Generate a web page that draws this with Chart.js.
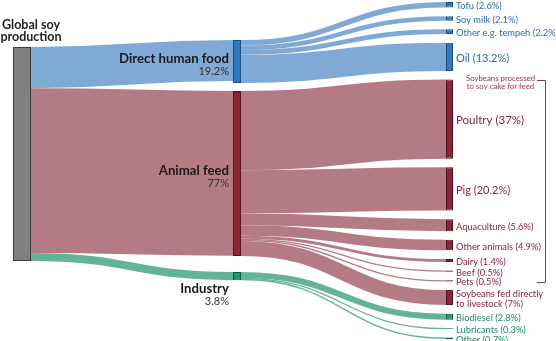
<!DOCTYPE html>
<html>
<head>
<meta charset="utf-8">
<script src="https://cdn.jsdelivr.net/npm/chart.js@4.4.1/dist/chart.umd.min.js"></script>
<style>
  html, body { margin: 0; padding: 0; background: #fff; }
  #wrap { width: 556px; height: 341px; position: relative; }
</style>
</head>
<body>
<div id="wrap"><canvas id="sankey"></canvas></div>
<script>
// shares of global soy production, in %
const sourceName = ['Global soy', 'production'];
const useNames = ['Direct human food', 'Animal feed', 'Industry'];
const useShares = [19.2, 77, 3.8];
const endNames = ['Tofu', 'Soy milk', 'Other e.g. tempeh', 'Oil', 'Poultry', 'Pig', 'Aquaculture', 'Other animals',
    'Dairy', 'Beef', 'Pets', 'Soybeans fed directly\nto livestock', 'Biodiesel', 'Lubricants', 'Other'];
const endShares = [2.6, 2.1, 2.2, 13.2, 37, 20.2, 5.6, 4.9, 1.4, 0.5, 0.5, 7, 2.8, 0.3, 0.7];
const endUse = [0, 0, 0, 0, 1, 1, 1, 1, 1, 1, 1, 1, 2, 2, 2];
const noteLines = ['Soybeans processed', 'to soy cake for feed'];
const noteFrom = 4, noteTo = 10; // Poultry .. Pets

// layout (y in % units, x in px units)
const W = 556, H = 341;
const pxPerUnit = 2.14;
const colX = [22, 237, 449.5];
const colWidth = [18, 8, 7];
const colTop = [22, 18.7, 0.9];
const useGaps = [3.7, 7.5];
const endGap = 4.04;

const nodeFill = ['#2b7bc3', '#8b2437', '#1d9a6c'];
const nodeEdge = ['#1b4f80', '#561422', '#0f5a3c'];
const linkFill = ['#80a9d5', '#b57b85', '#63b39b'];
const textFill = ['#2a6cb2', '#8b2437', '#1d8a5c'];
const font = 'Lato, "Open Sans", sans-serif';

const sum = arr => arr.reduce((a, b) => a + b, 0);
const pct = v => v + '%';

// node positions
const endTotal = useNames.map((_, u) => sum(endShares.filter((_, i) => endUse[i] === u)));
const srcNode = { y0: colTop[0], y1: colTop[0] + sum(useShares) };
const useNodes = [];
let cur = colTop[1];
useNames.forEach((n, u) => {
    const size = Math.max(useShares[u], endTotal[u]);
    useNodes.push({ y0: cur, y1: cur + size });
    cur += size + (useGaps[u] || 0);
});
const endNodes = [];
cur = colTop[2];
endShares.forEach(v => {
    endNodes.push({ y0: cur, y1: cur + v });
    cur += v + endGap;
});

// links
const links = [];
let s = srcNode.y0;
useShares.forEach((v, u) => {
    links.push({ col: 0, sy: s, ty: useNodes[u].y0, v, color: linkFill[u] });
    s += v;
});
const outCur = useNodes.map(n => n.y0);
endShares.forEach((v, i) => {
    const u = endUse[i];
    links.push({ col: 1, sy: outCur[u], ty: endNodes[i].y0, v, color: linkFill[u] });
    outCur[u] += v;
});

const sankeyPlugin = {
    id: 'sankey',
    beforeDatasetsDraw(chart) {
        const { ctx, scales: { x, y } } = chart;
        ctx.save();
        links.forEach(l => {
            const x0 = x.getPixelForValue(colX[l.col]) + colWidth[l.col] / 2;
            const x1 = x.getPixelForValue(colX[l.col + 1]) - colWidth[l.col + 1] / 2;
            const y0 = y.getPixelForValue(l.sy + l.v / 2);
            const y1 = y.getPixelForValue(l.ty + l.v / 2);
            const w = Math.max(1.3, y.getPixelForValue(l.v) - y.getPixelForValue(0));
            const xm = (x0 + x1) / 2;
            ctx.beginPath();
            ctx.moveTo(x0, y0);
            ctx.bezierCurveTo(xm, y0, xm, y1, x1, y1);
            ctx.lineWidth = w;
            ctx.strokeStyle = l.color;
            ctx.stroke();
        });
        ctx.restore();
    },
    afterDatasetsDraw(chart) {
        const { ctx, scales: { x, y } } = chart;
        ctx.save();
        ctx.textBaseline = 'alphabetic';

        // source label
        ctx.fillStyle = '#222';
        ctx.textAlign = 'center';
        ctx.font = 'bold 12.5px ' + font;
        const sTop = y.getPixelForValue(srcNode.y0);
        ctx.fillText(sourceName[0], x.getPixelForValue(colX[0]) + 9, sTop - 18);
        ctx.fillText(sourceName[1], x.getPixelForValue(colX[0]) + 9, sTop - 6);

        // middle labels
        ctx.textAlign = 'right';
        useNodes.forEach((n, u) => {
            const lx = x.getPixelForValue(colX[1]) - colWidth[1] / 2 - 4;
            const top = y.getPixelForValue(n.y0), bot = y.getPixelForValue(n.y1);
            let base = (top + bot) / 2 + 1.5;
            if (bot - top < 20) base = bot + 13;
            ctx.fillStyle = '#1a1a1a';
            ctx.font = 'bold 13.2px ' + font;
            ctx.fillText(useNames[u], lx, base);
            ctx.fillStyle = '#333';
            ctx.font = '11px ' + font;
            ctx.fillText(pct(useShares[u]), lx, base + 12);
        });

        // right labels
        ctx.textAlign = 'left';
        ctx.textBaseline = 'middle';
        endNodes.forEach((n, i) => {
            const v = endShares[i];
            const lx = x.getPixelForValue(colX[2]) + colWidth[2] / 2 + 3;
            const mid = (y.getPixelForValue(n.y0) + y.getPixelForValue(n.y1)) / 2;
            const size = v >= 30 ? 11.5 : v >= 10 ? 11 : 9.3;
            const lines = (endNames[i] + ' (' + pct(v) + ')').split('\n');
            ctx.font = size + 'px ' + font;
            ctx.fillStyle = textFill[endUse[i]];
            const lh = size + 1.2;
            lines.forEach((t, k) => {
                ctx.fillText(t, lx, mid + 1.5 + (k - (lines.length - 1) / 2) * lh);
            });
        });

        // note and bracket
        const bx = 545.5;
        const by0 = Math.round(y.getPixelForValue(endNodes[noteFrom].y0)) + 0.5;
        const by1 = Math.round(y.getPixelForValue(endNodes[noteTo].y1)) + 1.5;
        ctx.strokeStyle = '#555';
        ctx.lineWidth = 1;
        ctx.beginPath();
        ctx.moveTo(537, by0);
        ctx.lineTo(bx, by0);
        ctx.lineTo(bx, by1);
        ctx.lineTo(537, by1);
        ctx.stroke();
        ctx.font = '7.8px ' + font;
        ctx.fillStyle = '#a0384c';
        ctx.textAlign = 'center';
        ctx.textBaseline = 'alphabetic';
        ctx.fillText(noteLines[0], 500.5, by0 + 0.5);
        ctx.fillText(noteLines[1], 500.5, by0 + 8);
        ctx.restore();
    }
};

const barCommon = { borderWidth: 1, borderSkipped: false, grouped: false };

new Chart(document.getElementById('sankey'), {
    type: 'bar',
    data: {
        datasets: [
            Object.assign({
                data: [{ x: colX[0], y: [srcNode.y0, srcNode.y1] }],
                backgroundColor: '#808080', borderColor: '#3d3d3d', maxBarThickness: colWidth[0]
            }, barCommon),
            Object.assign({
                data: useNodes.map(n => ({ x: colX[1], y: [n.y0, n.y1] })),
                backgroundColor: nodeFill, borderColor: nodeEdge, maxBarThickness: colWidth[1]
            }, barCommon),
            Object.assign({
                data: endNodes.map(n => ({ x: colX[2], y: [n.y0, n.y1] })),
                backgroundColor: endUse.map(u => nodeFill[u]), borderColor: endUse.map(u => nodeEdge[u]),
                maxBarThickness: colWidth[2]
            }, barCommon)
        ]
    },
    options: {
        responsive: true,
        maintainAspectRatio: false,
        animation: false,
        layout: { padding: 0 },
        plugins: { legend: { display: false }, tooltip: { enabled: false } },
        scales: {
            x: { type: 'linear', min: 0, max: W, display: false, offset: false },
            y: { type: 'linear', min: 0, max: H / pxPerUnit, reverse: true, display: false }
        }
    },
    plugins: [sankeyPlugin]
});
</script>
</body>
</html>
